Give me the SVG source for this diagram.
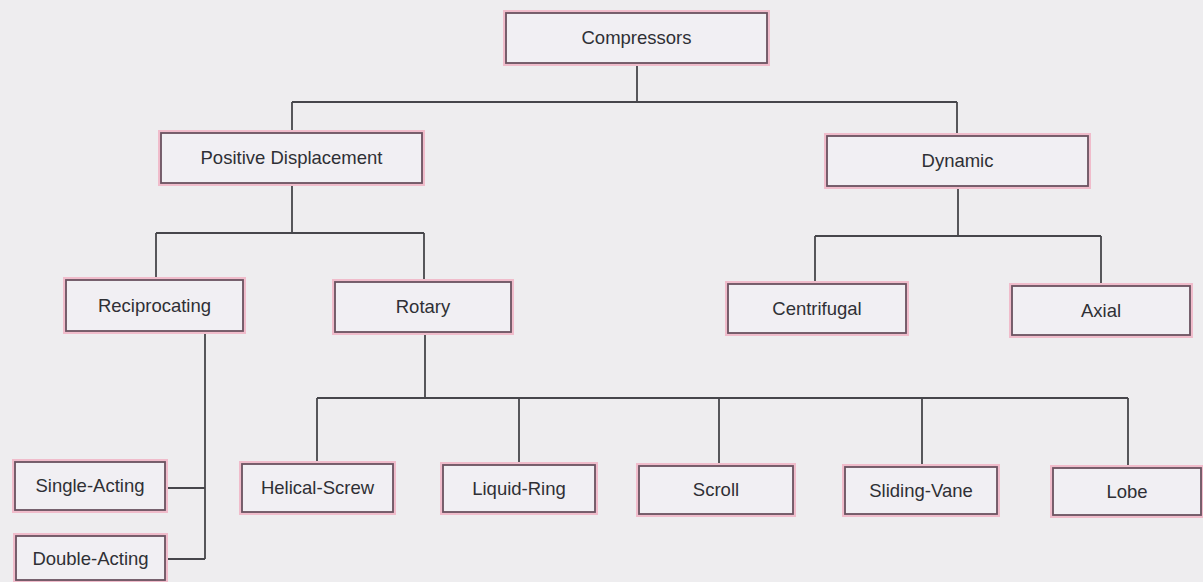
<svg xmlns="http://www.w3.org/2000/svg" width="1203" height="582" viewBox="0 0 1203 582">
<style>
.glow{fill:none;stroke:#f0bccb;stroke-width:6}
.box{fill:#f1eff3;stroke:#6a5260;stroke-width:1.8}
.lbl{font-family:"Liberation Sans",Arial,sans-serif;font-size:18.5px;fill:#2f2f35;text-anchor:middle}
.con{fill:none;stroke:#46464b;stroke-width:1.8}
</style>
<rect x="0" y="0" width="1203" height="582" fill="#eeedef"/>
<g id="connectors">
<path class="con" d="M637,63 V102 M292,102 H957 M292,102 V133 M957,102 V136"/>
<path class="con" d="M292,183 V233 M156,233 H424 M156,233 V280 M424,233 V282"/>
<path class="con" d="M958,186 V236 M815,236 H1101 M815,236 V284 M1101,236 V286"/>
<path class="con" d="M425,332 V398 M317,398 H1128 M317,398 V464 M519,398 V465 M719,398 V466 M922,398 V467 M1128,398 V468"/>
<path class="con" d="M205,331 V559 M165,488 H205 M165,559 H205"/>
</g>
<g id="compressors"><rect class="glow" x="506" y="13" width="261" height="50"/><rect class="box" x="506" y="13" width="261" height="50"/><text class="lbl" x="636.5" y="44">Compressors</text></g>
<g id="positive-displacement"><rect class="glow" x="161" y="133" width="261" height="50"/><rect class="box" x="161" y="133" width="261" height="50"/><text class="lbl" x="291.5" y="164">Positive Displacement</text></g>
<g id="dynamic"><rect class="glow" x="827" y="136" width="261" height="50"/><rect class="box" x="827" y="136" width="261" height="50"/><text class="lbl" x="957.5" y="167">Dynamic</text></g>
<g id="reciprocating"><rect class="glow" x="66" y="280" width="177" height="51"/><rect class="box" x="66" y="280" width="177" height="51"/><text class="lbl" x="154.5" y="312">Reciprocating</text></g>
<g id="rotary"><rect class="glow" x="335" y="282" width="176" height="50"/><rect class="box" x="335" y="282" width="176" height="50"/><text class="lbl" x="423" y="313">Rotary</text></g>
<g id="centrifugal"><rect class="glow" x="728" y="284" width="178" height="49"/><rect class="box" x="728" y="284" width="178" height="49"/><text class="lbl" x="817" y="315">Centrifugal</text></g>
<g id="axial"><rect class="glow" x="1012" y="286" width="178" height="49"/><rect class="box" x="1012" y="286" width="178" height="49"/><text class="lbl" x="1101" y="317">Axial</text></g>
<g id="single-acting"><rect class="glow" x="15" y="462" width="150" height="48"/><rect class="box" x="15" y="462" width="150" height="48"/><text class="lbl" x="90" y="492">Single-Acting</text></g>
<g id="double-acting"><rect class="glow" x="16" y="536" width="149" height="44"/><rect class="box" x="16" y="536" width="149" height="44"/><text class="lbl" x="90.5" y="565">Double-Acting</text></g>
<g id="helical-screw"><rect class="glow" x="242" y="464" width="151" height="48"/><rect class="box" x="242" y="464" width="151" height="48"/><text class="lbl" x="317.5" y="494">Helical-Screw</text></g>
<g id="liquid-ring"><rect class="glow" x="443" y="465" width="152" height="47"/><rect class="box" x="443" y="465" width="152" height="47"/><text class="lbl" x="519" y="495">Liquid-Ring</text></g>
<g id="scroll"><rect class="glow" x="639" y="466" width="154" height="48"/><rect class="box" x="639" y="466" width="154" height="48"/><text class="lbl" x="716" y="496">Scroll</text></g>
<g id="sliding-vane"><rect class="glow" x="845" y="467" width="152" height="47"/><rect class="box" x="845" y="467" width="152" height="47"/><text class="lbl" x="921" y="497">Sliding-Vane</text></g>
<g id="lobe"><rect class="glow" x="1053" y="468" width="148" height="47"/><rect class="box" x="1053" y="468" width="148" height="47"/><text class="lbl" x="1127" y="498">Lobe</text></g>
</svg>
